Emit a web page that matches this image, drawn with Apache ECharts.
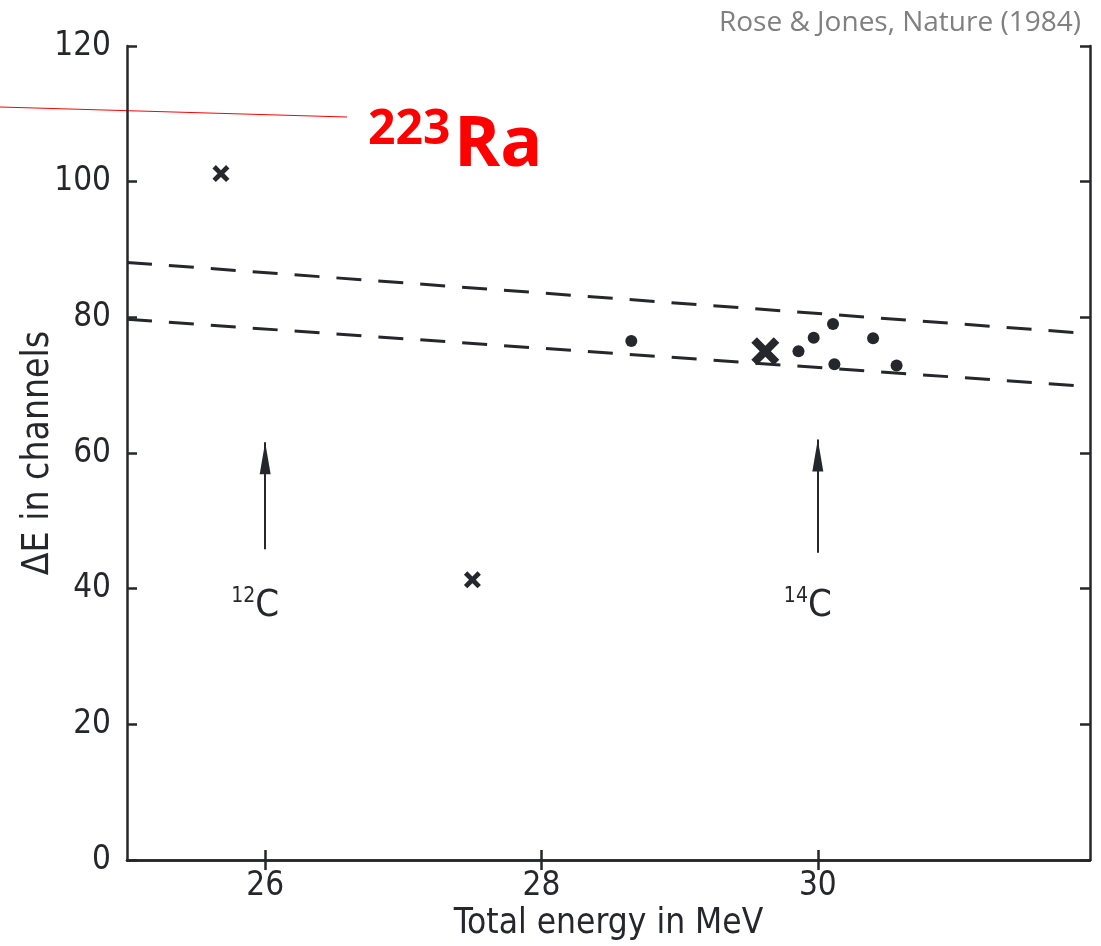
<!DOCTYPE html>
<html>
<head>
<meta charset="utf-8">
<script src="https://cdn.jsdelivr.net/npm/echarts@6/dist/echarts.min.js"></script>
<style>
  html, body { margin: 0; padding: 0; background: #fff; }
  #chart { width: 1101px; height: 946px; }
</style>
</head>
<body>
<div id="chart"></div>
<script>
// ---- data ----
const xTicks = [26, 28, 30];
const yTicks = [0, 20, 40, 60, 80, 100, 120];
const dots = [[28.65, 76.5], [29.86, 75.0], [29.97, 77.0], [30.11, 79.0], [30.12, 73.1], [30.40, 76.9], [30.57, 72.9]];
const smallCrosses = [[25.68, 101.2], [27.50, 41.3]];
const bigCross = [[29.62, 75.0]];
const upperBand = [[25, 88.1], [31.97, 77.6]];
const lowerBand = [[25, 79.7], [31.97, 69.8]];
const arrowC12 = [[26, 45.8], [26, 61.6]];
const arrowC14 = [[30, 45.3], [30, 62.0]];
const isotopeLabels = [[26, 37.5, '12'], [30, 37.5, '14']];

const INK = '#26272c';
const SCAN_FONT = '"Liberation Sans Narrow", "DejaVu Sans Condensed", "Roboto", sans-serif';
const X_PATH = 'path://M2,0 L5,3 L8,0 L10,2 L7,5 L10,8 L8,10 L5,7 L2,10 L0,8 L3,5 L0,2 Z';

const chart = echarts.init(document.getElementById('chart'), null, { renderer: 'canvas' });

const axisCommon = {
  type: 'value',
  axisLine: { show: true, lineStyle: { color: INK, width: 2.5 } },
  axisTick: { show: true, inside: true, length: 10, lineStyle: { color: INK, width: 2.5 } },
  splitLine: { show: false }
};

const arrows = [arrowC12, arrowC14];

chart.setOption({
  backgroundColor: '#ffffff',
  animation: false,
  grid: { left: 127, right: 11, top: 46, bottom: 86, containLabel: false },
  xAxis: [
    Object.assign({}, axisCommon, {
      position: 'bottom', min: 25, max: 31.97,
      name: 'Total energy in MeV', nameLocation: 'middle', nameGap: 46, nameMoveOverlap: false,
      nameTextStyle: { fontFamily: SCAN_FONT, fontSize: 35, color: INK },
      axisTick: Object.assign({}, axisCommon.axisTick, { customValues: xTicks }),
      axisLabel: { customValues: xTicks, margin: 10, fontFamily: SCAN_FONT, fontSize: 33, color: INK }
    }),
    Object.assign({}, axisCommon, {
      position: 'top', min: 25, max: 31.97,
      axisTick: Object.assign({}, axisCommon.axisTick, { customValues: xTicks }),
      axisLabel: { show: false }
    })
  ],
  yAxis: [
    Object.assign({}, axisCommon, {
      position: 'left', min: 0, max: 120, interval: 20,
      name: 'ΔE in channels', nameLocation: 'middle', nameGap: 70, nameRotate: 90, nameMoveOverlap: false,
      nameTextStyle: { fontFamily: SCAN_FONT, fontSize: 37, color: INK },
      axisLabel: { margin: 16, fontFamily: SCAN_FONT, fontSize: 33, color: INK }
    }),
    Object.assign({}, axisCommon, {
      position: 'right', min: 0, max: 120, interval: 20,
      axisLabel: { show: false }
    })
  ],
  series: [
    {
      type: 'line', data: upperBand, symbol: 'none', silent: true,
      lineStyle: { color: INK, width: 3, type: [25, 17] }
    },
    {
      type: 'line', data: lowerBand, symbol: 'none', silent: true,
      lineStyle: { color: INK, width: 3, type: [25, 17] }
    },
    {
      type: 'scatter', data: dots, symbol: 'circle', symbolSize: 12,
      itemStyle: { color: INK, opacity: 1 }
    },
    {
      type: 'scatter', data: smallCrosses, symbol: X_PATH, symbolSize: 17,
      itemStyle: { color: INK, opacity: 1 }
    },
    {
      type: 'scatter', data: bigCross, symbol: X_PATH, symbolSize: 28,
      itemStyle: { color: INK, opacity: 1 }
    },
    {
      type: 'lines', coordinateSystem: 'cartesian2d', silent: true,
      symbol: ['none', 'none'],
      lineStyle: { color: INK, width: 2, opacity: 1 },
      data: arrows.map(a => ({ coords: a }))
    },
    {
      type: 'scatter', silent: true,
      symbol: 'triangle', symbolSize: [11, 32], symbolOffset: [0, '50%'],
      itemStyle: { color: INK, opacity: 1 },
      data: arrows.map(a => a[1])
    },
    {
      type: 'scatter', symbolSize: 0, silent: true,
      itemStyle: { opacity: 1 },
      data: isotopeLabels.map(d => ({ value: [d[0], d[1]], mass: d[2] })),
      label: {
        show: true, position: 'inside', offset: [-10, 0],
        formatter: p => '{s|' + p.data.mass + '}{c|C}',
        rich: {
          s: { fontFamily: SCAN_FONT, fontSize: 21, color: INK, verticalAlign: 'top', lineHeight: 40, padding: [0, 0, 14, 0] },
          c: { fontFamily: SCAN_FONT, fontSize: 38, color: INK, lineHeight: 40 }
        }
      }
    }
  ],
  graphic: [
    {
      type: 'text', right: 20, top: 9,
      style: { text: 'Rose & Jones, Nature (1984)', font: '28px "Open Sans", Lato, sans-serif', fill: '#808080' }
    },
    {
      type: 'line', silent: true,
      shape: { x1: 0, y1: 107, x2: 347, y2: 117 },
      style: { stroke: '#ff0000', lineWidth: 1.2 }
    },
    {
      type: 'text', left: 368, top: 106,
      style: { text: '223', font: 'bold 48px "Open Sans", Lato, sans-serif', fill: '#ff0000' }
    },
    {
      type: 'text', left: 454, top: 111,
      style: { text: 'Ra', font: 'bold 70px "Open Sans", Lato, sans-serif', fill: '#ff0000' }
    }
  ]
});
</script>
</body>
</html>
